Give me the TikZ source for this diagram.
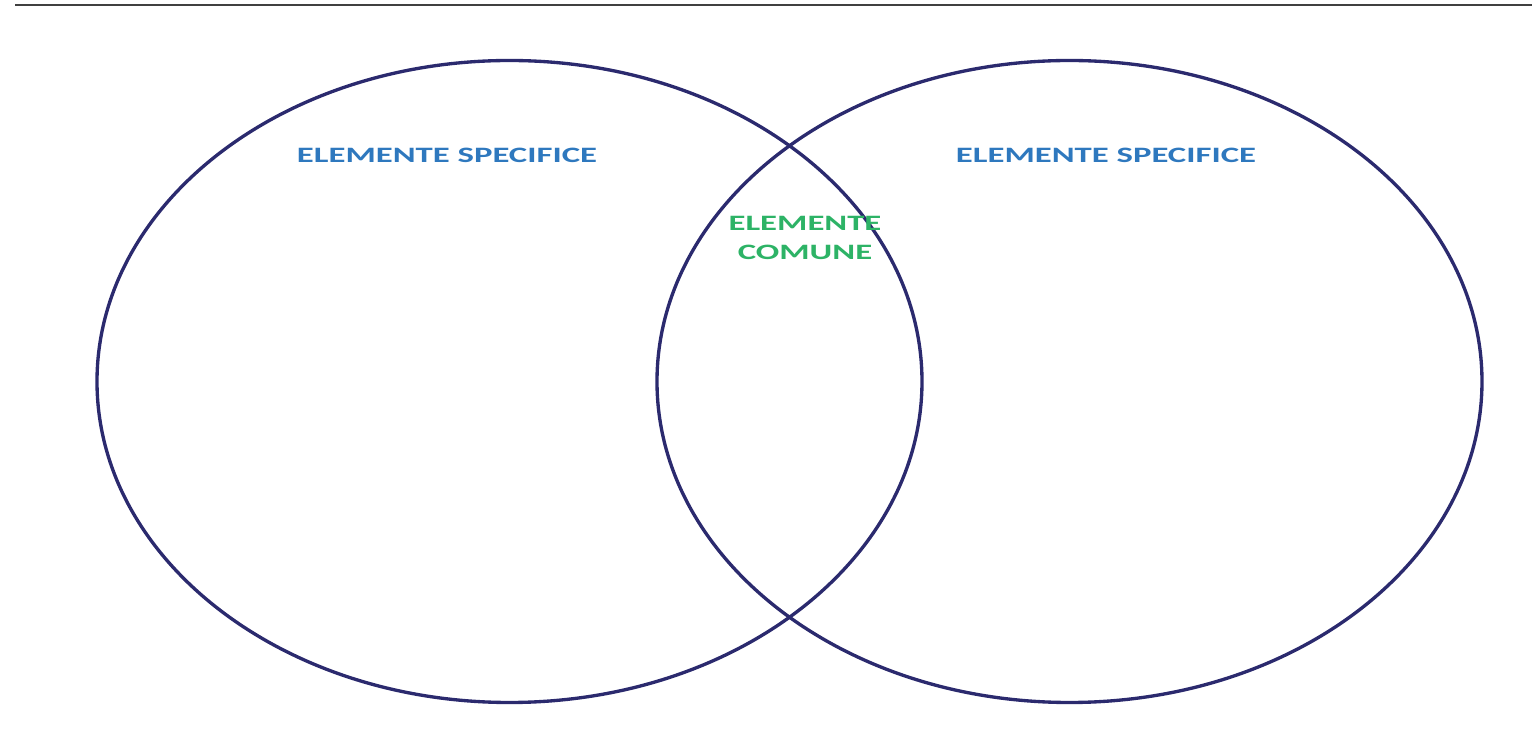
\documentclass[tikz,border=0pt]{standalone}
\usepackage{fontspec}
\setmainfont{Carlito}
\definecolor{setline}{HTML}{2B2A6E}
\definecolor{specblue}{HTML}{2E78BE}
\definecolor{comgreen}{HTML}{2DB366}
\begin{document}
\begin{tikzpicture}[
    setshape/.style={draw=setline, line width=1.9pt},
    labeltext/.style={font=\bfseries\fontsize{12.5}{17}\selectfont, xscale=1.58, transform shape},
    spectext/.style={labeltext, text=specblue},
    comtext/.style={labeltext, text=comgreen, align=center}
  ]
    % \draw[help lines] (0,0) grid (30.64,15.12);
    \useasboundingbox (0,0) rectangle (30.64,15.12);
    \draw[line width=1.4pt, black!75] (0.3,15.02) -- (30.64,15.02);

    \draw[setshape] (10.19,7.49) ellipse [x radius=8.25, y radius=6.42];
    \draw[setshape] (21.39,7.49) ellipse [x radius=8.25, y radius=6.42];

    \node[spectext] (specA) at (8.94,12.02) {ELEMENTE SPECIFICE};
    \node[spectext] (specB) at (22.12,12.02) {ELEMENTE SPECIFICE};
    \node[comtext] (common) at (16.10,10.36) {ELEMENTE\\COMUNE};

\end{tikzpicture}
\end{document}
